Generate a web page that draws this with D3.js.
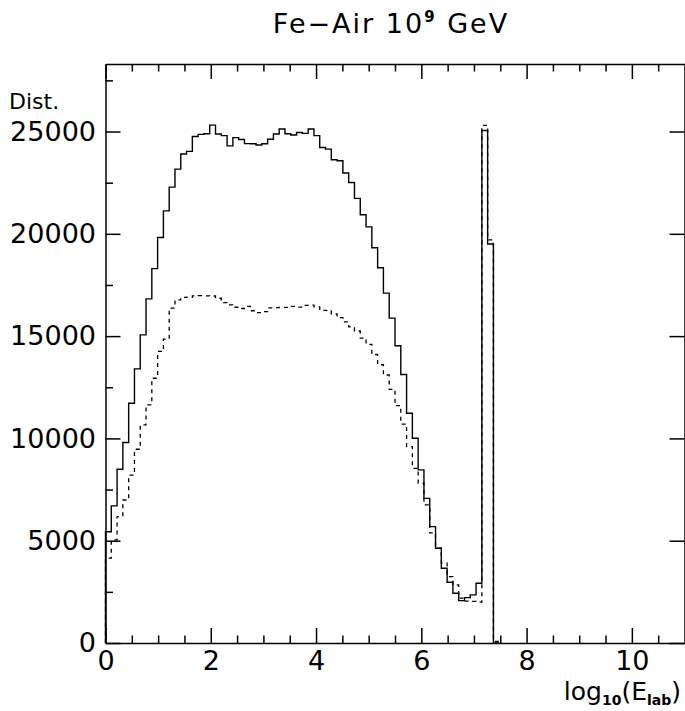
<!doctype html>
<html>
<head>
<meta charset="utf-8">
<style>
body { margin: 0; background-color: white; }
svg text { font-family: "DejaVu Sans", sans-serif; fill: black; }
</style>
<script src="https://cdnjs.cloudflare.com/ajax/libs/d3/7.8.5/d3.min.js"></script>
</head>
<body>
<div id="chart"></div>
<script>
	var width = 685;
	var height = 711;

	// histogram binning (100 bins over 0..11)
	var binWidth = 0.11;

	// solid histogram, one value per bin starting at x = 0
	var solidValues = [5440, 6700, 8490, 9800, 11720, 13400, 15060, 16820, 18300, 19820,
		21120, 22280, 23160, 23900, 24030, 24760, 24860, 24890, 25310, 24880,
		24800, 24300, 24700, 24610, 24410, 24400, 24340, 24400, 24620, 24880,
		25120, 24890, 24830, 24950, 24910, 25120, 24800, 24220, 24140, 23620,
		23570, 22970, 22510, 21730, 20930, 20340, 19320, 18340, 17100, 15880,
		14530, 13120, 11230, 10010, 8460, 7070, 5690, 4630, 3650, 2970,
		2430, 2070, 2220, 2350, 2920, 25050, 19500, 0];

	// dashed histogram
	var dashedValues = [4150, 5040, 6180, 6990, 8210, 9470, 10660, 11640, 12940, 14250,
		14850, 16370, 16770, 16890, 16900, 16970, 16980, 16970, 16960, 16850,
		16640, 16530, 16410, 16350, 16450, 16240, 16150, 16200, 16380, 16390,
		16400, 16400, 16450, 16420, 16500, 16510, 16430, 16260, 16260, 16080,
		15900, 15700, 15450, 15250, 14900, 14600, 14100, 13600, 13100, 12400,
		11600, 10700, 9600, 8540, 7810, 6750, 5380, 4630, 3900, 3240,
		2840, 2190, 2050, 2030, 2000, 25300, 19700, 80];

	var xMajorTicks = [0, 2, 4, 6, 8, 10];
	var xMinorTicks = [0.5, 1, 1.5, 2.5, 3, 3.5, 4.5, 5, 5.5, 6.5, 7, 7.5, 8.5, 9, 9.5, 10.5];
	var yMajorTicks = [0, 5000, 10000, 15000, 20000, 25000];
	var yMinorTicks = [2500, 7500, 12500, 17500, 22500, 27500];

	var svg = d3.select("#chart")
				.append("svg")
				.attr("width", width)
				.attr("height", height);

	var x = d3.scaleLinear().domain([0, 11]).range([105.5, 684.5]);
	var y = d3.scaleLinear().domain([0, 28300]).range([643, 64]);

	// turn bin values into step points
	function steps(values) {
		var pts = values.map(function (v, i) { return [i * binWidth, v]; });
		pts.push([values.length * binWidth, 0]);
		pts.unshift([0, 0]);
		return pts;
	}

	var line = d3.line()
				.x(function (d) { return x(d[0]); })
				.y(function (d) { return y(d[1]); })
				.curve(d3.curveStepAfter);

	svg.append("path")
		.attr("d", line(steps(dashedValues)))
		.attr("fill", "none")
		.attr("stroke", "black")
		.attr("stroke-width", 1.3)
		.attr("stroke-dasharray", "4,4");

	svg.append("path")
		.attr("d", line(steps(solidValues)))
		.attr("fill", "none")
		.attr("stroke", "black")
		.attr("stroke-width", 1.4);

	// axes, ticks pointing inwards like a ROOT frame
	function styleAxis(g) {
		g.selectAll("path, line").attr("stroke", "black").attr("stroke-width", 1.5);
		g.selectAll("text").attr("font-size", 27).attr("font-family", "DejaVu Sans, sans-serif");
	}

	svg.append("g")
		.attr("transform", "translate(0,643)")
		.call(d3.axisBottom(x).tickValues(xMajorTicks).tickSizeInner(-15).tickSizeOuter(0).tickPadding(8).tickFormat(d3.format("d")))
		.call(styleAxis);
	svg.append("g")
		.attr("transform", "translate(0,643)")
		.call(d3.axisBottom(x).tickValues(xMinorTicks).tickSize(-7.5).tickFormat(""))
		.call(styleAxis)
		.select(".domain").remove();

	svg.append("g")
		.attr("transform", "translate(0,64)")
		.call(d3.axisTop(x).tickValues(xMajorTicks).tickSizeInner(-15).tickSizeOuter(0).tickFormat(""))
		.call(styleAxis);
	svg.append("g")
		.attr("transform", "translate(0,64)")
		.call(d3.axisTop(x).tickValues(xMinorTicks).tickSize(-7.5).tickFormat(""))
		.call(styleAxis)
		.select(".domain").remove();

	svg.append("g")
		.attr("transform", "translate(105.5,0)")
		.call(d3.axisLeft(y).tickValues(yMajorTicks).tickSizeInner(-15).tickSizeOuter(0).tickPadding(9.5).tickFormat(d3.format("d")))
		.call(styleAxis);
	svg.append("g")
		.attr("transform", "translate(105.5,0)")
		.call(d3.axisLeft(y).tickValues(yMinorTicks).tickSize(-7.5).tickFormat(""))
		.call(styleAxis)
		.select(".domain").remove();

	svg.append("g")
		.attr("transform", "translate(684.5,0)")
		.call(d3.axisRight(y).tickValues(yMajorTicks).tickSizeInner(-15).tickSizeOuter(0).tickFormat(""))
		.call(styleAxis);

	// title
	var title = svg.append("text")
		.attr("x", 391)
		.attr("y", 33)
		.attr("text-anchor", "middle")
		.attr("font-size", 27)
		.attr("letter-spacing", 2);
	title.append("tspan").text("Fe\u2212Air 10");
	title.append("tspan").attr("dy", -11).attr("font-size", 15).attr("font-weight", "bold").text("9");
	title.append("tspan").attr("dy", 11).text(" GeV");

	// axis titles
	svg.append("text")
		.attr("x", 9)
		.attr("y", 109)
		.attr("font-size", 22)
		.text("Dist.");

	var xt = svg.append("text")
		.attr("x", 681)
		.attr("y", 700)
		.attr("text-anchor", "end")
		.attr("font-size", 25);
	xt.append("tspan").text("log");
	xt.append("tspan").attr("dy", 5).attr("font-size", 14).attr("font-weight", "bold").text("10");
	xt.append("tspan").attr("dy", -5).text("(E");
	xt.append("tspan").attr("dy", 5).attr("font-size", 14).attr("font-weight", "bold").text("lab");
	xt.append("tspan").attr("dy", -5).text(")");
</script>
</body>
</html>
